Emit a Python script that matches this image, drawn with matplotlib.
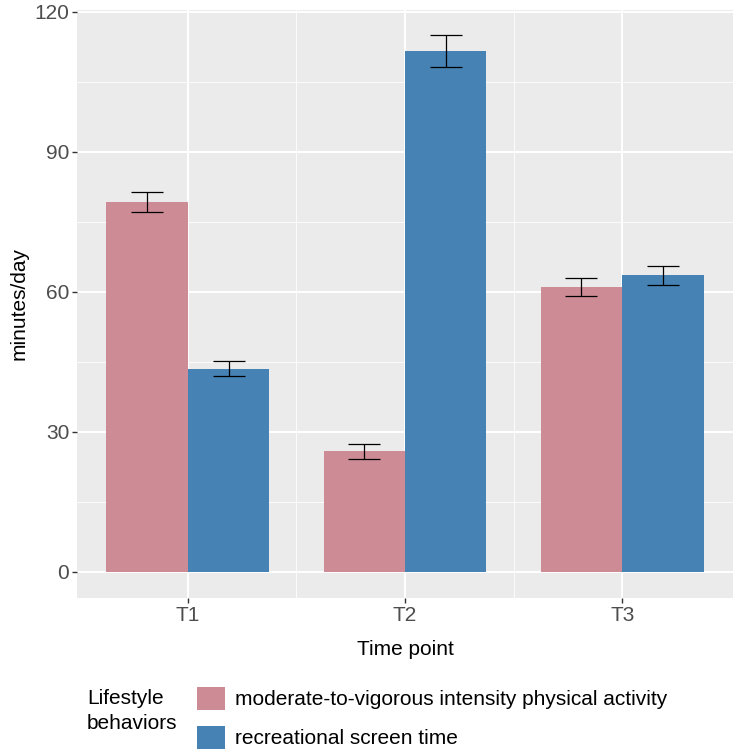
import numpy as np
import matplotlib.pyplot as plt

plt.rcParams['font.family'] = ['Liberation Sans', 'DejaVu Sans']

time_points = ['T1', 'T2', 'T3']
mvpa = [79.3, 25.8, 61.0]
mvpa_err = [2.1, 1.6, 1.9]
screen = [43.5, 111.6, 63.6]
screen_err = [1.6, 3.5, 2.05]
series_names = ['moderate-to-vigorous intensity physical activity',
                'recreational screen time']

fig = plt.figure(figsize=(7.44, 7.54), dpi=100)
ax = fig.add_axes([77 / 744, 1 - 598 / 754, 656 / 744, 588 / 754])
ax.set_facecolor('#EBEBEB')

x = np.arange(1, len(time_points) + 1)
w = 0.375
b1 = ax.bar(x - w / 2, mvpa, w, color='#CD8C95', zorder=3, label=series_names[0])
b2 = ax.bar(x + w / 2, screen, w, color='#4682B4', zorder=3, label=series_names[1])
ax.errorbar(x - w / 2, mvpa, yerr=mvpa_err, fmt='none', ecolor='black',
            elinewidth=0.9, capsize=11.5, capthick=0.9, zorder=4)
ax.errorbar(x + w / 2, screen, yerr=screen_err, fmt='none', ecolor='black',
            elinewidth=0.9, capsize=11.5, capthick=0.9, zorder=4)

ax.set_xlim(0.49, 3.51)
ax.set_ylim(-5.6, 120.4)
ax.set_yticks([0, 30, 60, 90, 120])
ax.set_xticks(x)
ax.set_xticklabels(time_points)
ax.set_yticks([15, 45, 75, 105], minor=True)
ax.set_xticks([1.5, 2.5], minor=True)
ax.grid(True, which='major', color='white', linewidth=1.4, zorder=0)
ax.grid(True, which='minor', color='white', linewidth=0.6, zorder=0)
ax.set_axisbelow(True)
for s in ax.spines.values():
    s.set_visible(False)
ax.tick_params(which='major', length=3.5, width=1, color='#333333',
               labelcolor='#4D4D4D', labelsize=15, pad=2)
ax.tick_params(which='minor', length=0)

ax.set_xlabel('Time point', fontsize=15, labelpad=11)
ax.set_ylabel('minutes/day', fontsize=15, labelpad=4)

leg = fig.legend(handles=[b1, b2], loc='upper left', bbox_to_anchor=(178 / 744, 1 - 668 / 754),
                 frameon=False, fontsize=15, handlelength=1.35, handleheight=1.35,
                 handletextpad=0.5, labelspacing=0.75)
fig.text(87 / 744, 1 - 711 / 754, 'Lifestyle\nbehaviors', fontsize=15,
         va='center', ha='left', linespacing=1.35)

fig.savefig('out.png', dpi=100)
